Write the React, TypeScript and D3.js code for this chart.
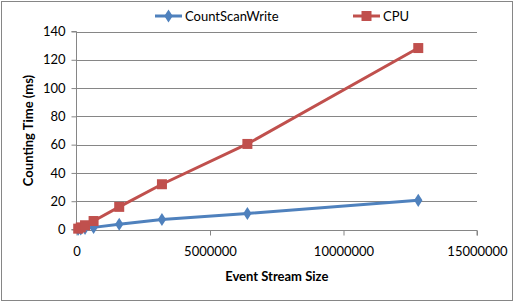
import React, { useEffect, useRef } from "react";
import * as d3 from "d3";

// event stream sizes (x) and counting times in ms (y)
const streamSizes = [64000, 160000, 320000, 640000, 1600000, 3200000, 6400000, 12800000];
const countScanWrite = [0.2, 0.4, 0.8, 1.5, 3.7, 7.1, 11.3, 20.6];
const cpu = [0.6, 1.5, 3, 6, 16, 32, 60.5, 128.3];
const seriesNames = ["CountScanWrite", "CPU"];
const seriesColors = ["#4F81BD", "#C0504D"];
const yTicks = [0, 20, 40, 60, 80, 100, 120, 140];
const xTicks = [0, 5000000, 10000000, 15000000];

const W = 515;
const H = 303;
const FONT = "Lato, 'Open Sans', sans-serif";

const App = () => {
    const svgRef = useRef<SVGSVGElement>(null);

    useEffect(() => {
        const margin = { top: 31.5, right: 38, bottom: 73.5, left: 76.5 };
        const svg = d3.select(svgRef.current);
        svg.selectAll("*").remove();
        svg.attr("width", W).attr("height", H);

        // outer frame
        svg.append("rect")
            .attr("x", 1.5).attr("y", 1.5)
            .attr("width", W - 4).attr("height", H - 4)
            .attr("fill", "white").attr("stroke", "#868686").attr("stroke-width", 1);

        const x = d3.scaleLinear().domain([0, 15000000]).range([margin.left, W - margin.right]);
        const y = d3.scaleLinear().domain([0, 140]).range([H - margin.bottom, margin.top]);

        // gridlines
        svg.append("g")
            .selectAll("line")
            .data(yTicks.slice(1))
            .enter()
            .append("line")
            .attr("x1", margin.left).attr("x2", W - margin.right)
            .attr("y1", (d) => Math.round(y(d)) + 0.5).attr("y2", (d) => Math.round(y(d)) + 0.5)
            .attr("stroke", "#868686");

        // y axis
        const yAxis = d3.axisLeft(y).tickValues(yTicks).tickSize(5).tickPadding(6);
        const gy = svg.append("g")
            .attr("transform", `translate(${margin.left},0)`)
            .call(yAxis);
        gy.select(".domain").attr("stroke", "#868686").attr("d", `M-5,${y(0)}H0V${y(140)}H-5`);
        gy.selectAll(".tick line").attr("stroke", "#868686");
        gy.selectAll(".tick text").attr("font-family", FONT).attr("font-size", 13).attr("fill", "#000");

        // x axis
        const xAxis = d3.axisBottom(x).tickValues(xTicks).tickFormat(d3.format("d")).tickSize(5).tickPadding(11);
        const gx = svg.append("g")
            .attr("transform", `translate(0,${Math.round(y(0)) + 0.5})`)
            .call(xAxis);
        gx.select(".domain").attr("stroke", "#868686").attr("d", `M${x(0)},0H${x(15000000)}V5`);
        gx.selectAll(".tick line").attr("stroke", "#868686");
        gx.selectAll(".tick text").attr("font-family", FONT).attr("font-size", 13).attr("fill", "#000");

        // axis titles
        svg.append("text")
            .attr("x", (x(0) + x(15000000)) / 2).attr("y", 281)
            .attr("text-anchor", "middle")
            .attr("font-family", FONT).attr("font-size", 13).attr("font-weight", "bold")
            .text("Event Stream Size");
        svg.append("text")
            .attr("transform", `translate(33,${(y(0) + y(140)) / 2}) rotate(-90)`)
            .attr("text-anchor", "middle")
            .attr("font-family", FONT).attr("font-size", 13).attr("font-weight", "bold")
            .text("Counting Time (ms)");

        const line = d3.line<number>()
            .x((_, i) => x(streamSizes[i]))
            .y((d) => y(d));

        const drawDiamond = (g: any, cx: number, cy: number, color: string) => {
            g.append("path")
                .attr("d", d3.symbol(d3.symbolDiamond, 50)())
                .attr("transform", `translate(${cx},${cy}) scale(1.1,1)`)
                .attr("fill", color);
        };
        const drawSquare = (g: any, cx: number, cy: number, color: string) => {
            g.append("rect")
                .attr("x", cx - 5).attr("y", cy - 5)
                .attr("width", 10).attr("height", 10)
                .attr("fill", color);
        };

        // blue drawn first so the red squares sit on top near the origin
        const plots = [
            { values: countScanWrite, color: seriesColors[0], marker: drawDiamond },
            { values: cpu, color: seriesColors[1], marker: drawSquare },
        ];
        plots.forEach((p) => {
            const g = svg.append("g");
            g.append("path")
                .datum(p.values)
                .attr("d", line)
                .attr("fill", "none")
                .attr("stroke", p.color)
                .attr("stroke-width", 3)
                .attr("stroke-linejoin", "round");
            p.values.forEach((v, i) => p.marker(g, x(streamSizes[i]), y(v), p.color));
        });

        // legend
        const legendX = [155, 353];
        seriesNames.forEach((name, i) => {
            const g = svg.append("g").attr("transform", `translate(${legendX[i]},16)`);
            g.append("line").attr("x1", 0).attr("x2", 27).attr("y1", 0).attr("y2", 0)
                .attr("stroke", seriesColors[i]).attr("stroke-width", 3);
            if (i === 0) drawDiamond(g, 13.5, 0, seriesColors[i]);
            else drawSquare(g, 13.5, 0, seriesColors[i]);
            g.append("text")
                .attr("x", 30).attr("y", 4.5)
                .attr("font-family", FONT).attr("font-size", 13)
                .text(name);
        });
    }, []);

    return (
        <>
            <style>{`body{margin:0}`}</style>
            <svg ref={svgRef}></svg>
        </>
    );
};

export default App;
